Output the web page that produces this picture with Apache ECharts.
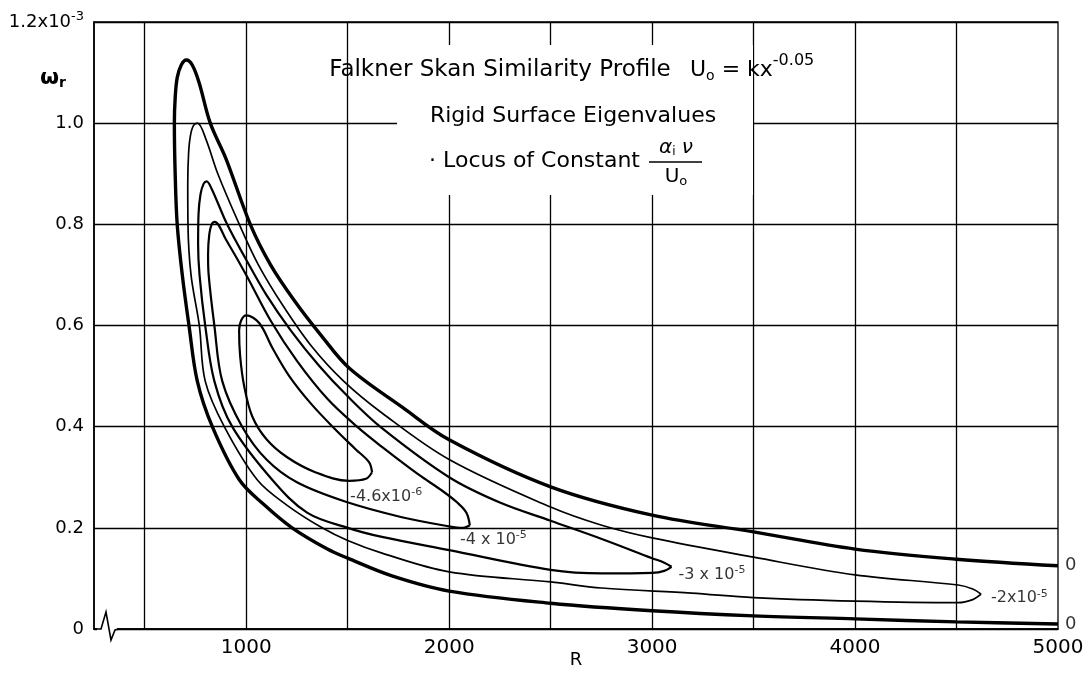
<!DOCTYPE html>
<html><head><meta charset="utf-8">
<script src="https://cdn.jsdelivr.net/npm/echarts@6/dist/echarts.min.js"></script>
<style>html,body{margin:0;padding:0;background:#fff}#c{width:1089px;height:676px}</style>
</head><body><div id="c"></div>
<script>
// ---- data (R, omega_r x 1e-3) ----
const contour0 = [[5000,.125],[4500,.138],[4000,.158],[3500,.192],[3000,.225],[2500,.281],[2000,.374],[1767,.439],[1507,.516],[1370,.58],[1236,.65],[1120,.72],[1020,.8],[900,.93],[823,1.0],[768,1.08],[734,1.115],[705,1.125],[680,1.115],[660,1.09],[650,1.05],[646,1.0],[650,.9],[660,.8],[685,.7],[718,.6],[759,.49],[833,.4],[966,.295],[1090,.245],[1226,.2],[1400,.158],[1500,.14],[1718,.105],[2000,.075],[2500,.051],[3000,.036],[3500,.026],[4000,.02],[4500,.014],[5000,.01]];
const contour2 = [[4621,.069],[4580,.079],[4508,.087],[4000,.107],[3500,.142],[3000,.18],[2752,.205],[2500,.241],[2000,.335],[1669,.427],[1480,.49],[1320,.56],[1180,.64],[1060,.72],[966,.8],[860,.9],[800,.97],[760,1.0],[740,.995],[725,.975],[716,.94],[712,.88],[713,.8],[728,.7],[769,.6],[798,.49],[892,.4],[1054,.295],[1200,.245],[1374,.2],[1500,.175],[1669,.15],[2000,.113],[2500,.093],[2752,.081],[3194,.071],[3500,.062],[4000,.055],[4508,.052],[4580,.058],[4621,.069]];
const contour3 = [[3096,.123],[3060,.131],[3000,.14],[2752,.178],[2500,.214],[2250,.25],[2000,.3],[1669,.397],[1500,.46],[1360,.52],[1220,.59],[1100,.66],[1000,.73],[906,.8],[830,.87],[805,.885],[790,.88],[775,.86],[765,.82],[763,.76],[770,.7],[798,.6],[843,.49],[931,.4],[1128,.295],[1300,.23],[1500,.2],[1669,.182],[2000,.156],[2500,.117],[2752,.11],[3000,.111],[3060,.115],[3096,.123]];
const contour4 = [[2102,.205],[2085,.23],[2040,.25],[1960,.275],[1850,.305],[1669,.36],[1546,.4],[1400,.455],[1250,.53],[1120,.61],[1000,.7],[900,.77],[845,.805],[830,.8],[818,.78],[812,.74],[815,.7],[843,.6],[882,.49],[980,.4],[1100,.335],[1250,.29],[1487,.252],[1767,.221],[2000,.203],[2070,.2],[2102,.205]];
const contour46 = [[1620,.31],[1605,.33],[1540,.355],[1438,.395],[1320,.445],[1212,.5],[1130,.555],[1064,.605],[1000,.62],[975,.61],[965,.59],[970,.54],[990,.48],[1030,.42],[1100,.375],[1200,.34],[1340,.31],[1507,.293],[1590,.297],[1620,.31]];
const gridR = [500,1000,1500,2000,2500,3000,3500,4000,4500];
const xTickLabels = [1000,2000,3000,4000,5000];
const labelR = [1512, 2053, 3130, 4670, 5000, 5000];
const labelW = [0.261, 0.176, 0.107, 0.061, 0.125, 0.01];
const labelText = ['-4.6x10{s|-6}', '-4 x 10{s|-5}', '-3 x 10{s|-5}', '-2x10{s|-5}', '0', '0'];

const FONT = 'DejaVu Sans';
const chart = echarts.init(document.getElementById('c'), null, {renderer:'canvas'});
function contourSeries(name, data, width){
  return {name, type:'line', data, showSymbol:false, smooth:0.35, animation:false,
    lineStyle:{color:'#000', width}, z:3};
}
const series = [
  contourSeries('0', contour0, 3.4),
  contourSeries('-2x10^-5', contour2, 1.7),
  contourSeries('-3x10^-5', contour3, 2.2),
  contourSeries('-4x10^-5', contour4, 2.2),
  contourSeries('-4.6x10^-6', contour46, 2.2),
  {type:'line', data:[], silent:true, z:1,
    markLine:{silent:true, symbol:['none','none'], animation:false, label:{show:false},
      lineStyle:{color:'#000', width:1.3, type:'solid'},
      data: gridR.map(v=>({xAxis:v}))}},
  {type:'scatter', symbolSize:0, silent:true, z:5, animation:false,
    data: labelR.map((r,i)=>({value:[r, labelW[i]], name:labelText[i]})),
    label:{show:true, position:'right', distance:0, formatter:p=>p.name,
      fontFamily:FONT, fontSize:16, color:'#000', rich:{s:{fontSize:11, fontFamily:FONT, color:'#000', padding:[0,0,9,0]}}}}
];
series[6].data[4].label = {distance:7, fontSize:18};
series[6].data[5].label = {distance:7, fontSize:18};

chart.setOption({
  animation:false,
  backgroundColor:'#fff',
  grid:{left:94, right:31, top:22, bottom:47, outerBoundsMode:'none', containLabel:false,
    show:true, borderColor:'#000', borderWidth:1.3, backgroundColor:'transparent'},
  xAxis:{type:'value', min:250, max:5000, interval:250,
    axisLine:{show:true, lineStyle:{color:'#000', width:1.6}},
    axisTick:{show:false}, splitLine:{show:false},
    axisLabel:{color:'#000', fontFamily:FONT, fontSize:20, margin:9,
      formatter:v=> xTickLabels.includes(v) ? String(v) : ''},
    name:'R', nameLocation:'middle', nameGap:22, nameMoveOverlap:false,
    nameTextStyle:{color:'#000', fontFamily:FONT, fontSize:18}},
  yAxis:{type:'value', min:0, max:1.2, interval:0.2,
    axisLine:{show:true, lineStyle:{color:'#000', width:1.6}},
    axisTick:{show:false},
    splitLine:{show:true, lineStyle:{color:'#000', width:1.3}},
    axisLabel:{color:'#000', fontFamily:FONT, fontSize:18, margin:10,
      formatter:v=> v===0 ? '0' : (Math.abs(v-1.2)<1e-9 ? '1.2x10{s|-3}' : v.toFixed(1)),
      rich:{s:{fontSize:13, fontFamily:FONT, color:'#000', padding:[0,0,10,0]}}}},
  graphic:[
    {type:'rect', z:50, shape:{x:397, y:45, width:356, height:150}, style:{fill:'#fff'}},
    {type:'text', z:51, x:500, y:70, style:{text:'Falkner Skan Similarity Profile', font:'23px "DejaVu Sans"', fill:'#000', align:'center', verticalAlign:'middle'}},
    {type:'text', z:51, x:690, y:70, style:{text:'U{b|o} = kx{p|-0.05}', font:'22px "DejaVu Sans"', fill:'#000', align:'left', verticalAlign:'middle',
      rich:{b:{fontSize:14, fontFamily:FONT, padding:[12,0,0,0]}, p:{fontSize:16, fontFamily:FONT, padding:[0,0,18,0]}}}},
    {type:'text', z:51, x:573, y:116, style:{text:'Rigid Surface Eigenvalues', font:'22px "DejaVu Sans"', fill:'#000', align:'center', verticalAlign:'middle'}},
    {type:'text', z:51, x:640, y:161, style:{text:'· Locus of Constant', font:'22px "DejaVu Sans"', fill:'#000', align:'right', verticalAlign:'middle'}},
    {type:'text', z:51, x:676, y:148, style:{text:'α{b|i} ν', font:'italic 20px "DejaVu Sans"', fill:'#000', align:'center', verticalAlign:'middle',
      rich:{b:{fontSize:12, fontFamily:FONT, padding:[8,0,0,0]}}}},
    {type:'line', z:51, shape:{x1:649, y1:162, x2:702, y2:162}, style:{stroke:'#000', lineWidth:1.6}},
    {type:'text', z:51, x:676, y:177, style:{text:'U{b|o}', font:'20px "DejaVu Sans"', fill:'#000', align:'center', verticalAlign:'middle',
      rich:{b:{fontSize:13, fontFamily:FONT, padding:[10,0,0,0]}}}},
    {type:'text', z:51, x:40, y:78, style:{text:'ω{b|r}', font:'bold 22px "DejaVu Sans"', fill:'#000', align:'left', verticalAlign:'middle',
      rich:{b:{fontSize:14, fontFamily:FONT, fontWeight:'bold', padding:[10,0,0,0]}}}},
    {type:'rect', z:50, shape:{x:97, y:625, width:20, height:8}, style:{fill:'#fff'}},
    {type:'polyline', z:51, shape:{points:[[94,629],[101,629],[106,612],[111,640],[115,630],[119,629]]}, style:{stroke:'#000', lineWidth:1.6, fill:null}}
  ],
  series
});
</script>
</body></html>
